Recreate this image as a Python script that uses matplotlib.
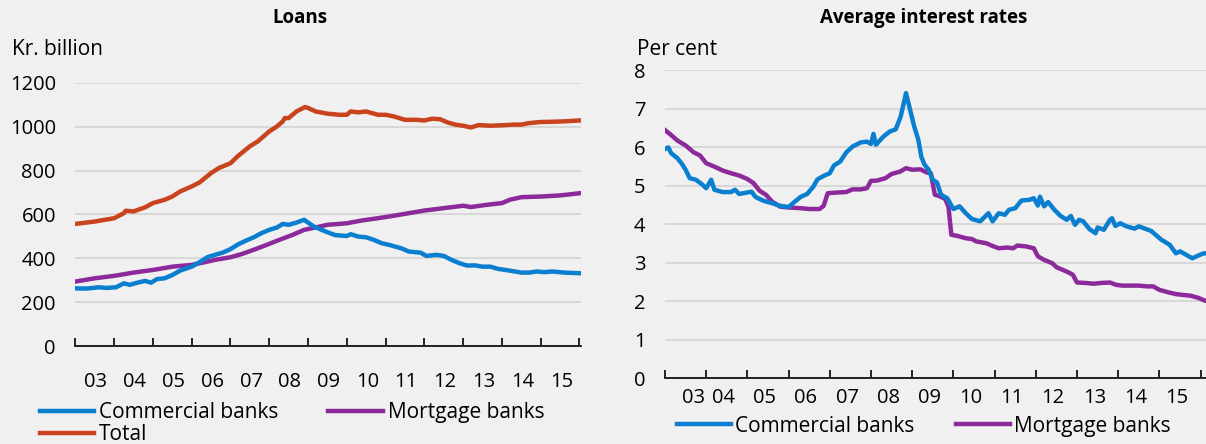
import numpy as np
import matplotlib.pyplot as plt

plt.rcParams['font.family'] = ['Open Sans', 'DejaVu Sans']

# Loans, kr. billion
loan_t = [2003.0, 2003.3, 2003.6, 2003.8, 2004.05, 2004.25, 2004.4, 2004.6, 2004.8, 2004.95,
          2005.1, 2005.3, 2005.5, 2005.7, 2006.0, 2006.2, 2006.4, 2006.6, 2006.8, 2007.0,
          2007.2, 2007.4, 2007.6, 2007.8, 2008.0, 2008.2, 2008.35, 2008.5, 2008.7, 2008.9,
          2009.0, 2009.15, 2009.35, 2009.5, 2009.7, 2010.0, 2010.1, 2010.3, 2010.5, 2010.7,
          2010.9, 2011.1, 2011.4, 2011.6, 2011.9, 2012.05, 2012.3, 2012.5, 2012.7, 2012.9,
          2013.1, 2013.3, 2013.5, 2013.7, 2013.9, 2014.2, 2014.5, 2014.7, 2014.9, 2015.1,
          2015.3, 2015.6, 2016.0]
commercial_loans = [263, 262, 268, 265, 268, 286, 279, 289, 297, 289,
                    305, 309, 324, 344, 362, 382, 405, 416, 426, 442,
                    464, 481, 496, 515, 530, 541, 557, 553, 563, 576,
                    563, 545, 530, 519, 506, 502, 510, 499, 496, 484,
                    469, 461, 446, 431, 426, 411, 416, 411, 393, 378,
                    367, 368, 362, 362, 352, 344, 335, 335, 340, 337,
                    340, 335, 332]

mort_t = [2003.0, 2003.5, 2004.0, 2004.5, 2005.0, 2005.5, 2006.0, 2006.3, 2006.6, 2007.0,
          2007.3, 2007.6, 2008.0, 2008.3, 2008.6, 2008.9, 2009.2, 2009.5, 2009.8, 2010.0,
          2010.4, 2010.8, 2011.2, 2011.6, 2012.0, 2012.5, 2013.0, 2013.2, 2013.6, 2014.0,
          2014.2, 2014.5, 2015.0, 2015.5, 2016.0]
mortgage_loans = [294, 309, 320, 335, 347, 362, 370, 381, 393, 405,
                  420, 439, 466, 487, 507, 530, 541, 553, 557, 560,
                  573, 583, 594, 606, 618, 629, 640, 634, 644, 652,
                  667, 679, 682, 687, 697]

total_t = [2003.0, 2003.5, 2004.0, 2004.25, 2004.3, 2004.5, 2004.8, 2005.0, 2005.3, 2005.5,
           2005.7, 2006.0, 2006.2, 2006.5, 2006.7, 2007.0, 2007.2, 2007.5, 2007.7, 2008.0,
           2008.2, 2008.35, 2008.4, 2008.5, 2008.7, 2008.92, 2009.0, 2009.2, 2009.5, 2009.8,
           2010.0, 2010.1, 2010.3, 2010.5, 2010.8, 2011.0, 2011.2, 2011.5, 2011.8, 2012.0,
           2012.2, 2012.4, 2012.6, 2012.8, 2013.0, 2013.2, 2013.4, 2013.7, 2014.0, 2014.3,
           2014.5, 2014.7, 2015.0, 2015.3, 2015.6, 2016.0]
total_loans = [557, 568, 583, 606, 617, 614, 633, 652, 667, 682,
               705, 728, 746, 789, 812, 834, 868, 911, 933, 979,
               1002, 1025, 1040, 1040, 1070, 1090, 1086, 1070, 1060, 1055,
               1055, 1070, 1066, 1070, 1055, 1055, 1048, 1032, 1032, 1029,
               1037, 1035, 1020, 1010, 1005, 997, 1008, 1005, 1007, 1010,
               1010, 1017, 1022, 1023, 1025, 1029]

# Average interest rates, per cent
comm_rate_t = [2003.0, 2003.08, 2003.15, 2003.3, 2003.4, 2003.5, 2003.6, 2003.75, 2003.9, 2004.0,
               2004.05, 2004.12, 2004.2, 2004.4, 2004.6, 2004.7, 2004.8, 2005.0, 2005.1, 2005.2,
               2005.4, 2005.6, 2005.8, 2006.0, 2006.15, 2006.3, 2006.45, 2006.6, 2006.7, 2006.85,
               2007.0, 2007.1, 2007.25, 2007.4, 2007.55, 2007.75, 2007.9, 2008.0, 2008.06, 2008.12,
               2008.3, 2008.45, 2008.6, 2008.72, 2008.85, 2008.95, 2009.05, 2009.15, 2009.22, 2009.3,
               2009.4, 2009.5, 2009.6, 2009.7, 2009.85, 2010.0, 2010.15, 2010.3, 2010.45, 2010.65,
               2010.85, 2010.95, 2011.1, 2011.25, 2011.35, 2011.5, 2011.65, 2011.85, 2011.95, 2012.05,
               2012.1, 2012.2, 2012.3, 2012.45, 2012.6, 2012.75, 2012.85, 2012.95, 2013.05, 2013.15,
               2013.3, 2013.45, 2013.5, 2013.65, 2013.8, 2013.85, 2013.93, 2014.05, 2014.2, 2014.4,
               2014.5, 2014.65, 2014.8, 2014.95, 2015.05, 2015.25, 2015.4, 2015.5, 2015.65, 2015.8,
               2015.92, 2016.05, 2016.2]
commercial_rate = [5.95, 5.99, 5.84, 5.71, 5.58, 5.41, 5.19, 5.15, 5.03, 4.93,
                   5.02, 5.15, 4.89, 4.83, 4.83, 4.89, 4.78, 4.82, 4.84, 4.70,
                   4.60, 4.54, 4.47, 4.44, 4.58, 4.71, 4.78, 4.97, 5.16, 5.25,
                   5.32, 5.52, 5.62, 5.86, 6.01, 6.12, 6.14, 6.08, 6.34, 6.06,
                   6.27, 6.40, 6.46, 6.79, 7.40, 6.96, 6.53, 6.18, 5.75, 5.54,
                   5.41, 5.15, 5.08, 4.76, 4.67, 4.39, 4.46, 4.28, 4.13, 4.07,
                   4.28, 4.07, 4.28, 4.24, 4.37, 4.41, 4.61, 4.63, 4.67, 4.48,
                   4.71, 4.46, 4.57, 4.37, 4.21, 4.11, 4.21, 3.98, 4.11, 4.07,
                   3.87, 3.76, 3.91, 3.85, 4.11, 4.15, 3.95, 4.02, 3.94, 3.88,
                   3.94, 3.88, 3.82, 3.68, 3.59, 3.46, 3.24, 3.29, 3.20, 3.11,
                   3.17, 3.23, 3.25]

mort_rate_t = [2003.0, 2003.15, 2003.3, 2003.5, 2003.7, 2003.85, 2004.0, 2004.2, 2004.4, 2004.6,
               2004.8, 2005.0, 2005.15, 2005.3, 2005.45, 2005.6, 2005.8, 2006.0, 2006.3, 2006.5,
               2006.75, 2006.85, 2006.95, 2007.2, 2007.4, 2007.55, 2007.75, 2007.9, 2008.0, 2008.15,
               2008.35, 2008.5, 2008.7, 2008.85, 2009.0, 2009.2, 2009.35, 2009.45, 2009.55, 2009.65,
               2009.8, 2009.88, 2009.95, 2010.1, 2010.3, 2010.45, 2010.55, 2010.8, 2010.95, 2011.1,
               2011.3, 2011.45, 2011.55, 2011.75, 2011.95, 2012.05, 2012.2, 2012.4, 2012.5, 2012.65,
               2012.8, 2012.9, 2013.0, 2013.2, 2013.4, 2013.6, 2013.8, 2013.95, 2014.1, 2014.3,
               2014.5, 2014.7, 2014.85, 2015.0, 2015.2, 2015.4, 2015.55, 2015.75, 2015.95, 2016.1,
               2016.2]
mortgage_rate = [6.44, 6.31, 6.17, 6.04, 5.86, 5.78, 5.58, 5.49, 5.39, 5.32,
                 5.26, 5.17, 5.06, 4.86, 4.76, 4.58, 4.45, 4.43, 4.41, 4.39,
                 4.39, 4.47, 4.80, 4.82, 4.83, 4.90, 4.90, 4.93, 5.12, 5.13,
                 5.19, 5.30, 5.36, 5.45, 5.41, 5.42, 5.34, 5.32, 4.76, 4.73,
                 4.65, 4.45, 3.72, 3.69, 3.63, 3.61, 3.55, 3.50, 3.43, 3.37,
                 3.39, 3.37, 3.44, 3.42, 3.37, 3.16, 3.07, 2.98, 2.88, 2.81,
                 2.74, 2.68, 2.48, 2.47, 2.45, 2.47, 2.48, 2.42, 2.40, 2.40,
                 2.40, 2.38, 2.38, 2.29, 2.23, 2.18, 2.16, 2.14, 2.08, 2.01,
                 1.99]

years = np.arange(2003, 2016)
year_labels = [f'{y % 100:02d}' for y in years]

BLUE = '#0a7fd0'
PURPLE = '#8d2a9b'
RED = '#c9431f'
BG = '#f0f0f0'
GRID = '#d6d6d6'
FS_TICK = 14.5
FS_TEXT = 15
FS_TITLE = 13.5
LW = 3.2

fig = plt.figure(figsize=(12.06, 4.44), dpi=100, facecolor=BG)
ax1 = fig.add_axes([0.0625, 0.2207, 0.4196, 0.5924])
ax2 = fig.add_axes([0.5514, 0.1486, 0.4544, 0.6937])


def style_axis(ax, label_pos, pad):
    ax.set_facecolor(BG)
    for s in ['top', 'right', 'left']:
        ax.spines[s].set_visible(False)
    ax.spines['bottom'].set_linewidth(1.2)
    ax.set_xticks(np.append(years, 2016))
    ax.set_xticklabels([])
    ax.tick_params(axis='x', which='major', direction='in', length=6, width=1.2)
    ax.set_xticks(label_pos, minor=True)
    ax.set_xticklabels(year_labels, minor=True, fontsize=FS_TICK)
    ax.tick_params(axis='x', which='minor', length=0, pad=pad)
    ax.tick_params(axis='y', length=0, labelsize=FS_TICK, pad=14)
    ax.grid(axis='y', color=GRID, linewidth=1.3)
    ax.set_axisbelow(True)


# Left panel: loans
ax1.plot(mort_t, mortgage_loans, color=PURPLE, lw=LW, label='Mortgage banks')
ax1.plot(loan_t, commercial_loans, color=BLUE, lw=LW, label='Commercial banks')
ax1.plot(total_t, total_loans, color=RED, lw=LW, label='Total')
ax1.set_xlim(2003, 2016.05)
ax1.set_ylim(0, 1200)
ax1.set_yticks(range(0, 1201, 200))
style_axis(ax1, years + 0.53, 19)

h, l = ax1.get_legend_handles_labels()
order = [1, 2, 0]
fig.legend([h[i] for i in order], [l[i] for i in order], loc='upper left',
           bbox_to_anchor=(0.033, 0.095), ncol=2, frameon=False, fontsize=FS_TEXT,
           handlelength=2.6, handletextpad=0.24, columnspacing=2.4,
           labelspacing=0.06, borderpad=0, borderaxespad=0)

# Right panel: interest rates
ax2.plot(mort_rate_t, mortgage_rate, color=PURPLE, lw=LW, label='Mortgage banks')
ax2.plot(comm_rate_t, commercial_rate, color=BLUE, lw=LW, label='Commercial banks')
ax2.set_xlim(2003, 2016.3)
ax2.set_ylim(0, 8)
ax2.set_yticks(range(0, 9))
rate_label_pos = years + 0.42
rate_label_pos[0] = 2003.7
style_axis(ax2, rate_label_pos, 7)

h2, l2 = ax2.get_legend_handles_labels()
fig.legend([h2[1], h2[0]], [l2[1], l2[0]], loc='upper left',
           bbox_to_anchor=(0.561, 0.064), ncol=2, frameon=False, fontsize=FS_TEXT,
           handlelength=2.6, handletextpad=0.2, columnspacing=2.0,
           borderpad=0, borderaxespad=0)

fig.text(0.2488, 0.9595, 'Loans', ha='center', va='center', fontsize=FS_TITLE, fontweight='bold')
fig.text(0.766, 0.9595, 'Average interest rates', ha='center', va='center', fontsize=FS_TITLE, fontweight='bold')
fig.text(0.010, 0.8896, 'Kr. billion', ha='left', va='center', fontsize=FS_TEXT)
fig.text(0.528, 0.8896, 'Per cent', ha='left', va='center', fontsize=FS_TEXT)

fig.savefig('out.png', dpi=100, facecolor=BG)
